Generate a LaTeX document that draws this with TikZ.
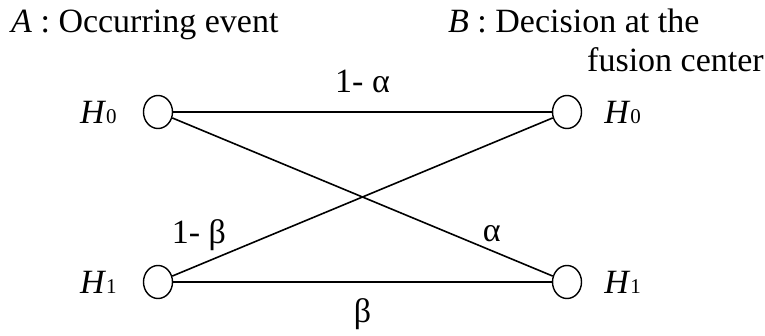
\documentclass[tikz,border=0pt]{standalone}
\usepackage{fontspec}
\setmainfont{Liberation Serif}
\usetikzlibrary{positioning, shapes.geometric}

\newcommand{\hyp}[1]{\textit{H}{\fontsize{21}{21}\selectfont #1}}

\begin{document}
\begin{tikzpicture}[
    x=1pt, y=1pt,
    state/.style={ellipse, draw, line width=1.4pt, minimum width=29pt, minimum height=33pt, inner sep=0pt},
    link/.style={line width=1.6pt},
    every node/.style={font=\fontsize{34}{40}\selectfont, inner sep=2pt}
  ]
    \useasboundingbox (0,0) rectangle (765,335);

    % Headings
    \node[anchor=base west, inner sep=0pt] (evt) at (11,302) {\textit{A} : Occurring event};
    \node[anchor=base west, inner sep=0pt] (dec) at (448,302) {\textit{B} : Decision at the};
    \node[anchor=base west, inner sep=0pt] (dec2) at (587,263) {fusion center};

    % Hypotheses
    \node[state] (a0) at (158,223) {};
    \node[state] (a1) at (158,53) {};
    \node[state] (b0) at (567,223) {};
    \node[state] (b1) at (567,53) {};

    \node[left=24pt of a0] (la0) {\hyp{0}};
    \node[left=24pt of a1] (la1) {\hyp{1}};
    \node[right=20pt of b0] (lb0) {\hyp{0}};
    \node[right=20pt of b1] (lb1) {\hyp{1}};

    % Links
    \draw[link] (a0) -- node[above=16pt] (p00) {1- α} (b0);
    \draw[link] (a1) -- node[below=14pt] (p11) {β} (b1);
    \draw[link] (a0) -- node[pos=0.84, above=6pt] (p01) {α} (b1);
    \draw[link] (a1) -- node[pos=0.07, above=11pt] (p10) {1- β} (b0);
  \end{tikzpicture}
\end{document}
